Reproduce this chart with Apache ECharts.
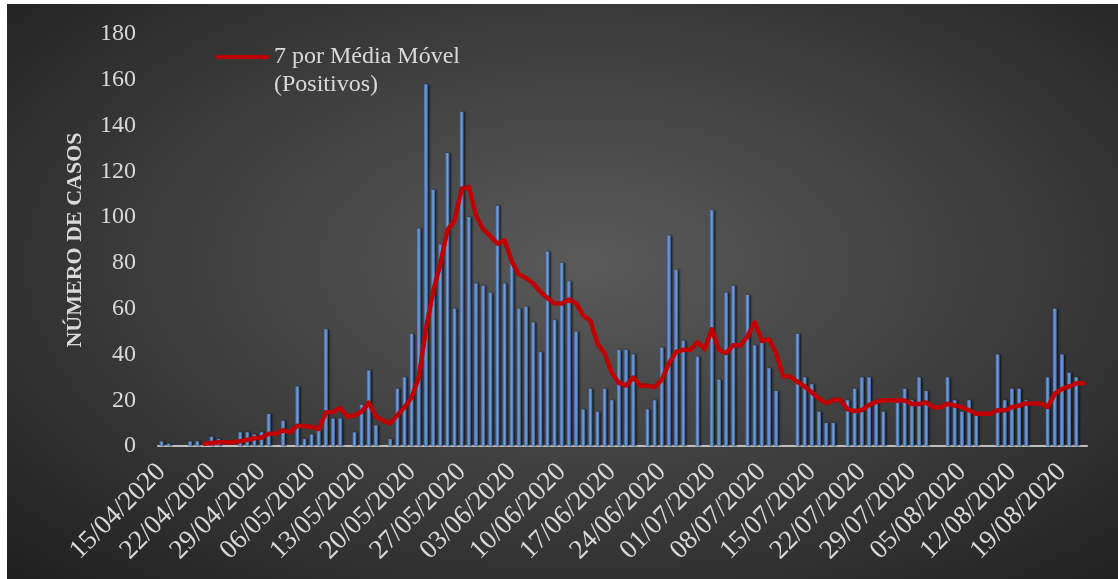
<!DOCTYPE html>
<html lang="pt-BR">
<head>
<meta charset="utf-8">
<title>Número de casos</title>
<style>
	html, body { margin: 0; padding: 0; background: #ffffff; }
	/*区域背景：中间亮、四角暗*/
	#chart {
		position: absolute; left: 7px; top: 4px; width: 1111px; height: 575px;
		background: radial-gradient(ellipse farthest-corner at 52% 45%, #5a5a5a 0%, #3b3b3b 55%, #1f1f1f 100%);
	}
</style>
<script src="https://cdn.jsdelivr.net/npm/echarts@6/dist/echarts.min.js"></script>
</head>
<body>
<div id="chart"></div>
<script>
/*******************************/
/*数据部分*/
/*******************************/
// primeiro dia e quantidade de dias
var inicio = new Date(2020, 3, 15);
var totalDias = 130;
// casos positivos por dia (15/04/2020 - 22/08/2020)
var casos = [
	2, 1, 0, 0, 2, 2, 0, 4, 3, 0, 0, 6, 6, 5, 6, 14, 0, 11, 0, 26,
	3, 5, 7, 51, 12, 12, 0, 6, 18, 33, 9, 0, 3, 25, 30, 49, 95, 158, 112, 88,
	128, 60, 146, 100, 71, 70, 67, 105, 71, 80, 60, 61, 54, 41, 85, 55, 80, 72, 50, 16,
	25, 15, 25, 20, 42, 42, 40, 0, 16, 20, 43, 92, 77, 46, 0, 39, 0, 103, 29, 67,
	70, 0, 66, 44, 45, 34, 24, 0, 0, 49, 30, 27, 15, 10, 10, 0, 20, 25, 30, 30,
	20, 15, 0, 19, 25, 20, 30, 24, 0, 0, 30, 20, 15, 20, 14, 0, 0, 40, 20, 25,
	25, 20, 0, 0, 30, 60, 40, 32, 30, 0
];
// média móvel de 7 dias
var mediaMovel = [
	null, null, null, null, null, null, 1.0, 1.3, 1.6, 1.6,
	1.6, 2.1, 2.7, 3.4, 3.7, 5.3, 5.3, 6.9, 6.0, 8.9,
	8.6, 8.4, 7.4, 14.7, 14.9, 16.6, 12.9, 13.3, 15.1, 18.9,
	12.9, 11.1, 9.9, 13.4, 16.9, 21.3, 30.1, 51.4, 67.4, 79.6,
	94.3, 98.6, 112.4, 113.1, 100.7, 94.7, 91.7, 88.4, 90.0, 80.6,
	74.9, 73.4, 71.1, 67.4, 64.6, 62.3, 62.3, 64.0, 62.4, 57.0,
	54.7, 44.7, 40.4, 31.9, 27.6, 26.4, 29.9, 26.3, 26.4, 25.7,
	29.0, 36.1, 41.1, 42.0, 42.0, 45.3, 42.4, 51.0, 42.0, 40.6,
	44.0, 44.0, 47.9, 54.1, 45.9, 46.6, 40.4, 30.4, 30.4, 28.0,
	26.0, 23.4, 20.7, 18.7, 20.1, 20.1, 16.0, 15.3, 15.7, 17.9,
	19.3, 20.0, 20.0, 19.9, 19.9, 18.4, 18.4, 19.0, 16.9, 16.9,
	18.4, 17.7, 17.0, 15.6, 14.1, 14.1, 14.1, 15.6, 15.6, 17.0,
	17.7, 18.6, 18.6, 18.6, 17.1, 22.9, 25.0, 26.0, 27.4, 27.4
];
// marcas do eixo y
var yMax = 180;
var yPasso = 20;
var nomeSerie = "7 por Média Móvel (Positivos)";

/*******************************/
/*页面加载时运行*/
/*******************************/
var datas = montarDatas(inicio, totalDias);
desenhar("chart", datas);

/*
**功能:生成日期 dd/mm/aaaa
*/
function montarDatas(d0, n) {
	var arr = [];
	for (var i = 0; i < n; i++) {
		var d = new Date(d0.getFullYear(), d0.getMonth(), d0.getDate() + i);
		var dd = ("0" + d.getDate()).slice(-2);
		var mm = ("0" + (d.getMonth() + 1)).slice(-2);
		arr.push(dd + "/" + mm + "/" + d.getFullYear());
	}
	return arr;
}

/*
**功能:柱状图 + 移动平均线
*/
function desenhar(ident, datas) {
	var fonte = "'Liberation Serif', 'DejaVu Serif', serif";
	var cinza = "#d9d9d9";
	var vermelho = "#c00000";
	var myChart = echarts.init(document.getElementById(ident));
	myChart.setOption({
		backgroundColor: "transparent",
		animation: false,
		grid: { left: 151, right: 31, top: 30, bottom: 133 },
		legend: {
			data: [{ name: nomeSerie, icon: "rect", itemStyle: { color: vermelho } }],
			left: 209,
			top: 11,
			padding: 0,
			itemWidth: 53,
			itemHeight: 4,
			// linha vazia em cima para que o ícone fique na primeira linha
			formatter: function () { return "\n7 por Média Móvel\n(Positivos)"; },
			textStyle: { color: cinza, fontFamily: fonte, fontSize: 24, lineHeight: 28 }
		},
		xAxis: {
			type: "category",
			data: datas,
			axisLine: { lineStyle: { color: "#bfbfbf", width: 2 } },
			axisTick: { interval: 6, length: 7, lineStyle: { color: "#bfbfbf", width: 2 } },
			axisLabel: {
				interval: 6, rotate: 45, margin: 22,
				color: cinza, fontFamily: fonte, fontSize: 27
			},
			splitLine: { show: false }
		},
		yAxis: {
			type: "value",
			min: 0, max: yMax, interval: yPasso,
			name: "NÚMERO DE CASOS",
			nameLocation: "middle",
			nameRotate: 90,
			nameGap: 72,
			nameTextStyle: { color: cinza, fontFamily: fonte, fontSize: 22, fontWeight: "bold" },
			axisLine: { show: false },
			axisTick: { show: false },
			axisLabel: { margin: 22, color: cinza, fontFamily: fonte, fontSize: 24 },
			splitLine: { show: false }
		},
		series: [
			{
				name: "Positivos",
				type: "bar",
				data: casos,
				barWidth: 4,
				itemStyle: {
					color: {
						type: "linear", x: 0, y: 0, x2: 1, y2: 0,
						colorStops: [
							{ offset: 0, color: "#3d67a6" },
							{ offset: 0.5, color: "#76a0d8" },
							{ offset: 1, color: "#31578e" }
						]
					},
					shadowColor: "rgba(0, 0, 0, 0.65)",
					shadowBlur: 2,
					shadowOffsetX: 1.5
				}
			},
			{
				name: nomeSerie,
				type: "line",
				data: mediaMovel,
				symbol: "none",
				z: 5,
				lineStyle: { color: vermelho, width: 4.5, join: "round", cap: "round" },
				itemStyle: { color: vermelho }
			}
		]
	});
}
</script>
</body>
</html>
